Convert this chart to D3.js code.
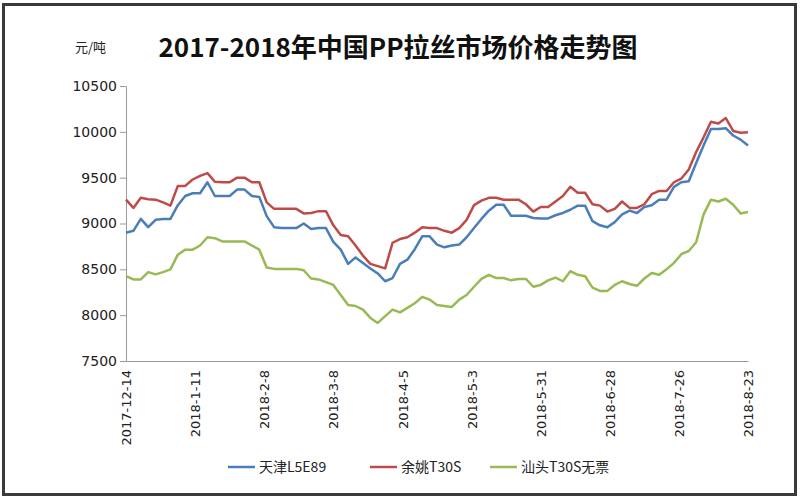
<!DOCTYPE html>
<html>
<head>
<meta charset="utf-8">
<script src="https://cdn.jsdelivr.net/npm/d3@7"></script>
<style>
  body { margin: 0; background: #fff; }
  svg { display: block; }
  .axis path, .axis line { stroke: #9a9a9a; }
  .axis text { fill: #222; font-family: "DejaVu Sans", sans-serif; font-size: 13px; }
  .yaxis text { font-size: 14px; }
</style>
</head>
<body>
<svg width="800" height="500"></svg>
<script>
"use strict";

var width = 800,
    height = 500;

// 日期（每3天一个点）
var dates = [
  "2017-12-14", "2017-12-17", "2017-12-20", "2017-12-23", "2017-12-26", "2017-12-29",
  "2018-01-01", "2018-01-04", "2018-01-07", "2018-01-10", "2018-01-13", "2018-01-16",
  "2018-01-19", "2018-01-22", "2018-01-25", "2018-01-28", "2018-01-31",
  "2018-02-03", "2018-02-06", "2018-02-09", "2018-02-12", "2018-02-15", "2018-02-18",
  "2018-02-21", "2018-02-24", "2018-02-27",
  "2018-03-02", "2018-03-05", "2018-03-08", "2018-03-11", "2018-03-14", "2018-03-17",
  "2018-03-20", "2018-03-23", "2018-03-26", "2018-03-29",
  "2018-04-01", "2018-04-04", "2018-04-07", "2018-04-10", "2018-04-13", "2018-04-16",
  "2018-04-19", "2018-04-22", "2018-04-25", "2018-04-28",
  "2018-05-01", "2018-05-04", "2018-05-07", "2018-05-10", "2018-05-13", "2018-05-16",
  "2018-05-19", "2018-05-22", "2018-05-25", "2018-05-28", "2018-05-31",
  "2018-06-03", "2018-06-06", "2018-06-09", "2018-06-12", "2018-06-15", "2018-06-18",
  "2018-06-21", "2018-06-24", "2018-06-27", "2018-06-30",
  "2018-07-03", "2018-07-06", "2018-07-09", "2018-07-12", "2018-07-15", "2018-07-18",
  "2018-07-21", "2018-07-24", "2018-07-27", "2018-07-30",
  "2018-08-02", "2018-08-05", "2018-08-08", "2018-08-11", "2018-08-14", "2018-08-17",
  "2018-08-20", "2018-08-23"
];

var tianjin = [
  8900, 8920, 9050, 8960, 9040, 9050, 9050, 9200, 9300, 9330,
  9330, 9450, 9300, 9300, 9300, 9370, 9370, 9300, 9290, 9080,
  8960, 8950, 8950, 8950, 9000, 8940, 8950, 8950, 8800, 8715,
  8560, 8630, 8570, 8510, 8455, 8370, 8405, 8560, 8605, 8720,
  8860, 8860, 8770, 8740, 8760, 8770, 8850, 8950, 9050, 9140,
  9205, 9205, 9085, 9085, 9085, 9060, 9055, 9055, 9090, 9115,
  9150, 9195, 9195, 9025, 8980, 8960, 9015, 9100, 9140, 9115,
  9180, 9200, 9260, 9260, 9400, 9450, 9460, 9660, 9850, 10030,
  10030, 10040, 9960, 9915, 9850
];

var yuyao = [
  9260, 9170, 9280, 9265, 9260, 9230, 9195, 9410, 9410, 9480,
  9520, 9550, 9455, 9450, 9450, 9500, 9500, 9450, 9450, 9230,
  9160, 9160, 9160, 9160, 9110, 9115, 9135, 9135, 8980, 8875,
  8860, 8760, 8650, 8560, 8535, 8510, 8790, 8830, 8850, 8900,
  8960, 8950, 8950, 8920, 8900, 8950, 9040, 9200, 9250, 9280,
  9280, 9260, 9260, 9260, 9210, 9130, 9180, 9180, 9240, 9300,
  9400, 9335, 9335, 9210, 9195, 9130, 9160, 9240, 9170, 9170,
  9210, 9320, 9355, 9355, 9450, 9490, 9590, 9780, 9940, 10110,
  10090, 10150, 10010, 9990, 9995
];

var shantou = [
  8425, 8390, 8390, 8470, 8445, 8470, 8500, 8660, 8715, 8715,
  8760, 8850, 8840, 8805, 8805, 8805, 8805, 8760, 8715, 8520,
  8505, 8505, 8505, 8505, 8490, 8400, 8390, 8360, 8330, 8220,
  8110, 8100, 8060, 7970, 7915, 7990, 8060, 8030, 8080, 8130,
  8200, 8170, 8110, 8100, 8090, 8170, 8220, 8310, 8395, 8440,
  8405, 8405, 8380, 8395, 8395, 8310, 8330, 8380, 8410, 8370,
  8480, 8440, 8425, 8300, 8265, 8265, 8330, 8370, 8340, 8320,
  8400, 8460, 8440, 8500, 8570, 8665, 8700, 8795, 9100, 9260,
  9240, 9270, 9205, 9110, 9125
];

var seriesNames = ["天津L5E89", "余姚T30S", "汕头T30S无票"];
var seriesColors = ["#4a7ebb", "#be4b48", "#98b954"];
var yTicks = [7500, 8000, 8500, 9000, 9500, 10000, 10500];
var xTicks = ["2017-12-14", "2018-01-11", "2018-02-08", "2018-03-08", "2018-04-05",
              "2018-05-03", "2018-05-31", "2018-06-28", "2018-07-26", "2018-08-23"];

var parse = d3.timeParse("%Y-%m-%d");
var fmt = d3.timeFormat("%Y-%-m-%-d");

var svg = d3.select("svg");

// 外框
svg.append("rect")
    .attr("x", 3.5).attr("y", 4.5)
    .attr("width", 792).attr("height", 490)
    .attr("fill", "none")
    .attr("stroke", "#3a3a3a")
    .attr("stroke-width", 3);

var x = d3.scaleTime()
    .domain([parse(dates[0]), parse(dates[dates.length - 1])])
    .range([126, 748]);

var y = d3.scaleLinear()
    .domain([7500, 10500])
    .range([361, 86]);

svg.append("g")
    .attr("class", "axis yaxis")
    .attr("transform", "translate(126,0)")
    .call(d3.axisLeft(y).tickValues(yTicks).tickFormat(d3.format("d"))
        .tickSize(6).tickSizeOuter(0).tickPadding(3));

var xAxis = svg.append("g")
    .attr("class", "axis")
    .attr("transform", "translate(0,361)")
    .call(d3.axisBottom(x).tickValues(xTicks.map(parse)).tickFormat(fmt).tickSize(0).tickSizeOuter(0));

xAxis.selectAll("text")
    .attr("transform", "rotate(-90)")
    .attr("text-anchor", "end")
    .attr("x", -9)
    .attr("y", 0)
    .attr("dy", "0.35em");

var series = [tianjin, yuyao, shantou];

var line = d3.line()
    .x(function (d, i) { return x(parse(dates[i])); })
    .y(function (d) { return y(d); });

svg.selectAll(".series")
    .data(series)
    .enter()
    .append("path")
    .attr("class", "series")
    .attr("d", line)
    .attr("fill", "none")
    .attr("stroke", function (d, i) { return seriesColors[i]; })
    .attr("stroke-width", 2.5)
    .attr("stroke-linejoin", "round");

// 标题
svg.append("text")
    .attr("x", 398)
    .attr("y", 57)
    .attr("text-anchor", "middle")
    .attr("font-family", "'Noto Sans CJK SC', sans-serif")
    .attr("font-weight", "bold")
    .attr("font-size", 26)
    .attr("fill", "#111")
    .text("2017-2018年中国PP拉丝市场价格走势图");

svg.append("text")
    .attr("x", 75)
    .attr("y", 52)
    .attr("font-family", "'Noto Sans CJK SC', sans-serif")
    .attr("font-size", 13)
    .attr("fill", "#222")
    .text("元/吨");

// 图例
var legendX = [228, 370, 490];
var legend = svg.selectAll(".legend")
    .data(seriesNames)
    .enter()
    .append("g")
    .attr("class", "legend")
    .attr("transform", function (d, i) { return "translate(" + legendX[i] + ",467)"; });

legend.append("line")
    .attr("x1", 0).attr("x2", 27)
    .attr("stroke", function (d, i) { return seriesColors[i]; })
    .attr("stroke-width", 2.5);

legend.append("text")
    .attr("x", 31)
    .attr("dy", "0.35em")
    .attr("font-family", "'Noto Sans CJK SC', sans-serif")
    .attr("font-size", 14)
    .attr("fill", "#222")
    .text(function (d) { return d; });
</script>
</body>
</html>
